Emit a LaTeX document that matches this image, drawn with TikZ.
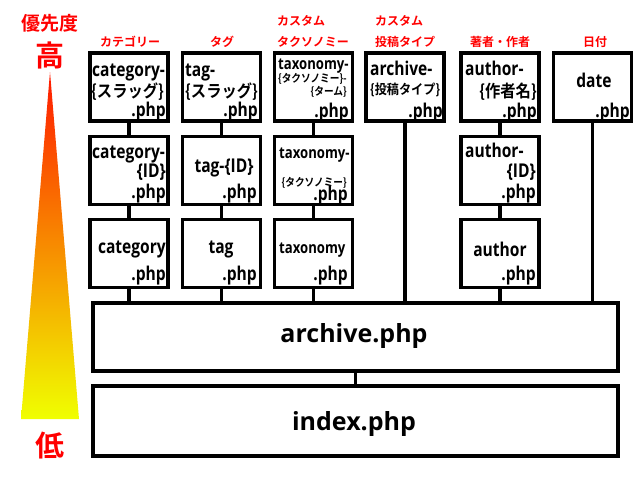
\documentclass[tikz,border=0pt]{standalone}
\usepackage{fontspec}
\usepackage{graphicx}
\newfontfamily\lat{Open Sans}
\newfontfamily\jp{Noto Sans CJK JP Bold}
\newcommand\sqz[2]{\scalebox{#1}[1]{#2}}
\definecolor{hdred}{RGB}{255,0,0}
\definecolor{trired}{RGB}{255,24,0}
\definecolor{triorange}{RGB}{248,130,0}
\definecolor{triyellow}{RGB}{240,255,0}
\begin{document}
\begin{tikzpicture}[x=1pt,y=-1pt,
  pbox/.style={draw, line width=3.8pt, minimum width=78pt, minimum height=68pt, inner sep=0pt},
  wbox/.style={draw, line width=3.8pt, minimum width=525pt, inner sep=0pt},
  conn/.style={line width=3.8pt},
  lt/.style={inner sep=0pt, font=\lat\bfseries\fontsize{19}{19}\selectfont},
  lts/.style={inner sep=0pt, font=\lat\bfseries\fontsize{16}{16}\selectfont},
  big/.style={inner sep=0pt, font=\lat\bfseries\fontsize{25}{25}\selectfont},
  jt/.style={inner sep=0pt, font=\jp\fontsize{17}{17}\selectfont},
  jtm/.style={inner sep=0pt, font=\jp\fontsize{13.5}{13.5}\selectfont},
  jts/.style={inner sep=0pt, font=\jp\fontsize{11}{11}\selectfont},
  rt/.style={inner sep=0pt, text=hdred, font=\jp\fontsize{12}{12}\selectfont},
  rbig/.style={inner sep=0pt, text=hdred, font=\jp\fontsize{29}{29}\selectfont},
  rmid/.style={inner sep=0pt, text=hdred, font=\jp\fontsize{19}{19}\selectfont}
]
\fill[white] (0,0) rectangle (640,480);
\useasboundingbox (0,0) rectangle (640,480);

% priority triangle
\shade[top color=trired, middle color=triorange, bottom color=triyellow]
  (50,72) -- (79,419) -- (21,419) -- cycle;
\node[rmid, anchor=base] (prio) at (50,30) {優先度};
\node[rbig, anchor=base] (high) at (50,66) {高};
\node[rbig, anchor=base] (low) at (50,456) {低};

% red headers
\node[rt, anchor=base] (h1) at (130,46.5) {カテゴリー};
\node[rt, anchor=base] (h2) at (222,46.5) {タグ};
\node[rt, anchor=base west] (h3a) at (277,25.5) {カスタム};
\node[rt, anchor=base west] (h3b) at (277,46.5) {タクソノミー};
\node[rt, anchor=base west] (h4a) at (375,25.5) {カスタム};
\node[rt, anchor=base west] (h4b) at (375,46.5) {投稿タイプ};
\node[rt, anchor=base] (h5) at (500,46.5) {著者・作者};
\node[rt, anchor=base] (h6) at (595,46.5) {日付};

% boxes
\node[pbox] (c1r1) at (129,87) {};
\node[pbox] (c1r2) at (129,170.5) {};
\node[pbox] (c1r3) at (129,253.5) {};
\node[pbox] (c2r1) at (221.5,87) {};
\node[pbox] (c2r2) at (221.5,170.5) {};
\node[pbox] (c2r3) at (221.5,253.5) {};
\node[pbox] (c3r1) at (313.5,87) {};
\node[pbox] (c3r2) at (313.5,170.5) {};
\node[pbox] (c3r3) at (313.5,253.5) {};
\node[pbox] (c4r1) at (405,87) {};
\node[pbox] (c5r1) at (500,87) {};
\node[pbox] (c5r2) at (500,170.5) {};
\node[pbox] (c5r3) at (500,253.5) {};
\node[pbox] (c6r1) at (592.5,87) {};
\node[wbox, minimum height=68pt] (arch) at (355.5,337) {};
\node[wbox, minimum height=70pt] (idx) at (355.5,421) {};

% connectors
\draw[conn] (c1r1.south) -- (c1r2.north);
\draw[conn] (c1r2.south) -- (c1r3.north);
\draw[conn] (c1r3.south) -- (c1r3.south |- arch.north);
\draw[conn] (c2r1.south) -- (c2r2.north);
\draw[conn] (c2r2.south) -- (c2r3.north);
\draw[conn] (c2r3.south) -- (c2r3.south |- arch.north);
\draw[conn] (c3r1.south) -- (c3r2.north);
\draw[conn] (c3r2.south) -- (c3r3.north);
\draw[conn] (c3r3.south) -- (c3r3.south |- arch.north);
\draw[conn] (c4r1.south) -- (c4r1.south |- arch.north);
\draw[conn] (c5r1.south) -- (c5r2.north);
\draw[conn] (c5r2.south) -- (c5r3.north);
\draw[conn] (c5r3.south) -- (c5r3.south |- arch.north);
\draw[conn] (c6r1.south) -- (c6r1.south |- arch.north);
\draw[conn] (arch.south) -- (idx.north);

% row 1 texts
\node[lt, anchor=base west] (t11a) at (92,76) {\sqz{0.82}{category-}};
\node[jt, anchor=base west] (t11b) at (91,97) {\sqz{0.9}{\{スラッグ\}}};
\node[lt, anchor=base east] (t11c) at (166,116) {\sqz{0.82}{.php}};
\node[lt, anchor=base west] (t21a) at (185,76) {\sqz{0.82}{tag-}};
\node[jt, anchor=base west] (t21b) at (185,97) {\sqz{0.9}{\{スラッグ\}}};
\node[lt, anchor=base east] (t21c) at (258,116) {\sqz{0.82}{.php}};
\node[lts, anchor=base west] (t31a) at (278,69) {\sqz{0.82}{taxonomy-}};
\node[jts, anchor=base east] (t31b) at (347,82) {\sqz{0.88}{\{タクソノミー\}-}};
\node[jts, anchor=base east] (t31c) at (347,95) {\sqz{0.88}{\{ターム\}}};
\node[lt, anchor=base east] (t31d) at (349,117) {\sqz{0.82}{.php}};
\node[lt, anchor=base west] (t41a) at (370,75) {\sqz{0.82}{archive-}};
\node[jtm, anchor=base west] (t41b) at (370,94) {\sqz{0.9}{\{投稿タイプ\}}};
\node[lt, anchor=base east] (t41c) at (443,117) {\sqz{0.82}{.php}};
\node[lt, anchor=base west] (t51a) at (465,75) {\sqz{0.82}{author-}};
\node[jt, anchor=base east] (t51b) at (537,97) {\sqz{0.9}{\{作者名\}}};
\node[lt, anchor=base east] (t51c) at (537,117) {\sqz{0.82}{.php}};
\node[lt, anchor=base] (t61a) at (594,87) {\sqz{0.82}{date}};
\node[lt, anchor=base east] (t61b) at (630,117) {\sqz{0.82}{.php}};

% row 2 texts
\node[lt, anchor=base west] (t12a) at (92,158) {\sqz{0.82}{category-}};
\node[lt, anchor=base east] (t12b) at (166,177) {\sqz{0.82}{\{ID\}}};
\node[lt, anchor=base east] (t12c) at (166,198) {\sqz{0.82}{.php}};
\node[lt, anchor=base] (t22a) at (224,172) {\sqz{0.82}{tag-\{ID\}}};
\node[lt, anchor=base east] (t22b) at (257,198) {\sqz{0.82}{.php}};
\node[lts, anchor=base west] (t32a) at (279,158) {\sqz{0.82}{taxonomy-}};
\node[jts, anchor=base east] (t32b) at (347,186) {\sqz{0.88}{\{タクソノミー\}}};
\node[lt, anchor=base east] (t32c) at (348,200) {\sqz{0.82}{.php}};
\node[lt, anchor=base west] (t52a) at (465,157) {\sqz{0.82}{author-}};
\node[lt, anchor=base east] (t52b) at (536,177) {\sqz{0.82}{\{ID\}}};
\node[lt, anchor=base east] (t52c) at (536,198) {\sqz{0.82}{.php}};

% row 3 texts
\node[lt, anchor=base east] (t13a) at (166,253) {\sqz{0.82}{category}};
\node[lt, anchor=base east] (t13b) at (166,280) {\sqz{0.82}{.php}};
\node[lt, anchor=base] (t23a) at (221,253) {\sqz{0.82}{tag}};
\node[lt, anchor=base east] (t23b) at (257,280) {\sqz{0.82}{.php}};
\node[lts, anchor=base west] (t33a) at (279,253) {\sqz{0.82}{taxonomy}};
\node[lt, anchor=base east] (t33b) at (348,280) {\sqz{0.82}{.php}};
\node[lt, anchor=base] (t53a) at (500,256) {\sqz{0.82}{author}};
\node[lt, anchor=base east] (t53b) at (536,280) {\sqz{0.82}{.php}};

% big texts
\node[big, anchor=base] (archtxt) at (354,342) {archive.php};
\node[big, anchor=base] (idxtxt) at (354,430) {index.php};
\end{tikzpicture}
\end{document}
